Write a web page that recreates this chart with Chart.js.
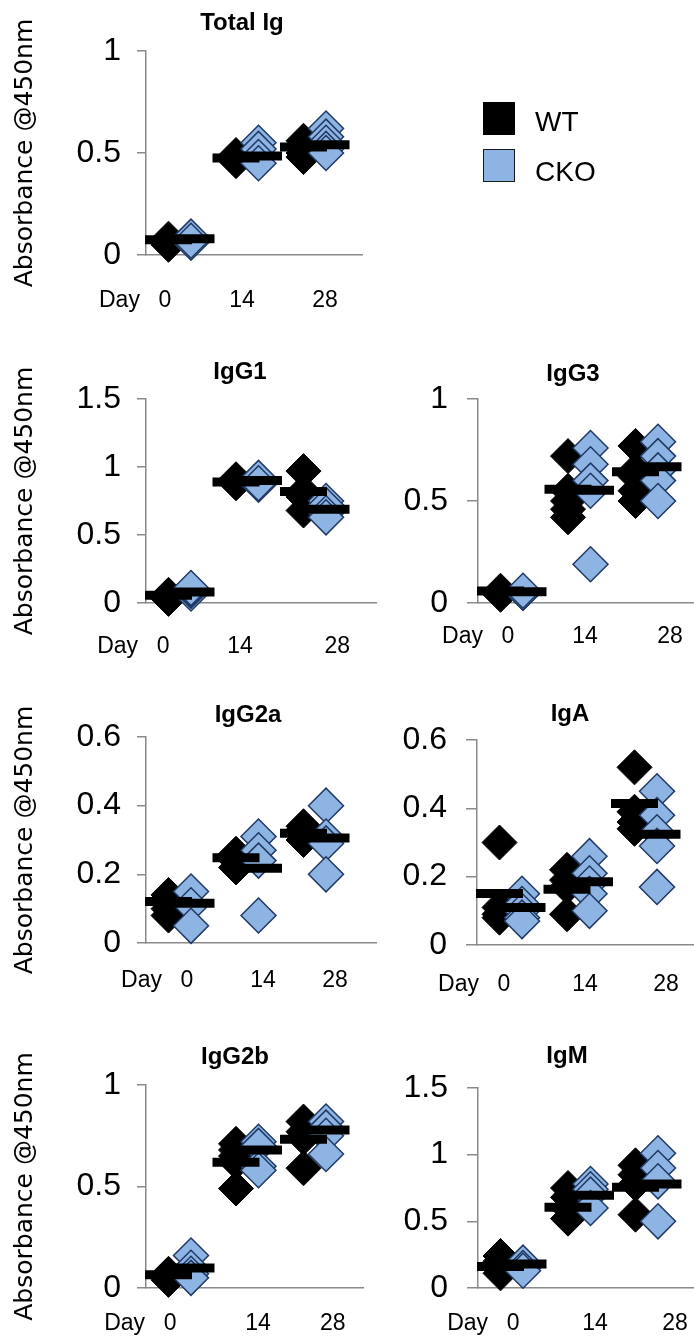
<!DOCTYPE html>
<html>
<head>
<meta charset="utf-8">
<script src="https://cdn.jsdelivr.net/npm/chart.js@4.4.1/dist/chart.umd.min.js"></script>
<style>
  html, body { margin: 0; padding: 0; background: #fff; }
  body { width: 694px; height: 1339px; position: relative; overflow: hidden; }
  canvas { position: absolute; }
  .sw { position: absolute; left: 483px; width: 30px; height: 31px; box-sizing: content-box; }
  .key { position: absolute; left: 535px; font: 28px "Liberation Sans", Arial, sans-serif; line-height: 28px; color: #000; }
</style>
</head>
<body>
<script>
const days = ['0', '14', '28'];
const groups = ['WT', 'CKO'];
const panelNames = ['Total Ig', 'IgG1', 'IgG3', 'IgG2a', 'IgA', 'IgG2b', 'IgM'];
const yMax = [1, 1.5, 1, 0.6, 0.6, 1, 1.5];
const yStep = [0.5, 0.5, 0.5, 0.2, 0.2, 0.5, 0.5];

// one inner array per day (0, 14, 28): individual mice
const totalIgWT = [[0.05, 0.06, 0.07, 0.08, 0.07], [0.46, 0.47, 0.48, 0.49, 0.47], [0.56, 0.53, 0.50, 0.48, 0.52]];
const totalIgCKO = [[0.06, 0.08, 0.09, 0.07], [0.55, 0.52, 0.48, 0.45], [0.62, 0.58, 0.55, 0.52, 0.50]];
const igG1WT = [[0.03, 0.05, 0.06, 0.04], [0.88, 0.90, 0.89, 0.91], [0.97, 0.82, 0.78, 0.68]];
const igG1CKO = [[0.07, 0.09, 0.10, 0.11], [0.87, 0.90, 0.92, 0.88], [0.75, 0.72, 0.66, 0.63]];
const igG3WT = [[0.04, 0.05, 0.06, 0.05], [0.72, 0.55, 0.50, 0.46, 0.42], [0.77, 0.65, 0.62, 0.55, 0.50]];
const igG3CKO = [[0.05, 0.05, 0.06], [0.76, 0.68, 0.60, 0.55, 0.19], [0.79, 0.72, 0.65, 0.60, 0.50]];
const igG2aWT = [[0.14, 0.12, 0.10, 0.08], [0.26, 0.24, 0.22, 0.25], [0.34, 0.32, 0.30, 0.33]];
const igG2aCKO = [[0.15, 0.11, 0.05], [0.31, 0.27, 0.24, 0.08], [0.40, 0.31, 0.29, 0.20]];
const igAWT = [[0.30, 0.11, 0.08, 0.09], [0.22, 0.19, 0.17, 0.09], [0.52, 0.39, 0.36, 0.34]];
const igACKO = [[0.15, 0.12, 0.10, 0.08, 0.07], [0.26, 0.21, 0.18, 0.15, 0.10], [0.45, 0.38, 0.33, 0.29, 0.17]];
const igG2bWT = [[0.07, 0.05, 0.06, 0.04], [0.71, 0.68, 0.65, 0.62, 0.49], [0.82, 0.77, 0.74, 0.59]];
const igG2bCKO = [[0.16, 0.10, 0.07, 0.05], [0.72, 0.70, 0.60, 0.58], [0.82, 0.79, 0.75, 0.66]];
const igMWT = [[0.24, 0.20, 0.14, 0.11], [0.75, 0.68, 0.60, 0.52], [0.92, 0.85, 0.78, 0.55]];
const igMCKO = [[0.19, 0.15, 0.13], [0.78, 0.74, 0.70, 0.60], [1.01, 0.90, 0.80, 0.50]];

// group means (the black bars), per day
const totalIgWTMean = [0.075, 0.475, 0.53];
const totalIgCKOMean = [0.08, 0.485, 0.54];
const igG1WTMean = [0.057, 0.89, 0.82];
const igG1CKOMean = [0.08, 0.90, 0.69];
const igG3WTMean = [0.059, 0.557, 0.643];
const igG3CKOMean = [0.055, 0.553, 0.668];
const igG2aWTMean = [0.121, 0.248, 0.32];
const igG2aCKOMean = [0.116, 0.218, 0.306];
const igAWTMean = [0.151, 0.163, 0.414];
const igACKOMean = [0.11, 0.185, 0.324];
const igG2bWTMean = [0.065, 0.62, 0.733];
const igG2bCKOMean = [0.098, 0.68, 0.778];
const igMWTMean = [0.162, 0.605, 0.755];
const igMCKOMean = [0.18, 0.695, 0.78];

const wtValues = [totalIgWT, igG1WT, igG3WT, igG2aWT, igAWT, igG2bWT, igMWT];
const ckoValues = [totalIgCKO, igG1CKO, igG3CKO, igG2aCKO, igACKO, igG2bCKO, igMCKO];
const wtMeans = [totalIgWTMean, igG1WTMean, igG3WTMean, igG2aWTMean, igAWTMean, igG2bWTMean, igMWTMean];
const ckoMeans = [totalIgCKOMean, igG1CKOMean, igG3CKOMean, igG2aCKOMean, igACKOMean, igG2bCKOMean, igMCKOMean];

/* colours */
const wtColor = '#000000';
const ckoFill = '#8db4e2';
const ckoEdge = '#1f3864';
const axisColor = '#8a8a8a';

/* panel placement in the figure (px) */
const xUnit = 22.5;
const layout = [
  { left: 0,   xL: 146, xR: 362, yT: 51,   yB: 255,  titleX: 242, titleY: 23.5, dayY: 301,  dayX: [0.84, 4.27, 7.96] },
  { left: 0,   xL: 146, xR: 376, yT: 399,  yB: 603,  titleX: 240, titleY: 372,  dayY: 647,  dayX: [0.76, 4.18, 8.5] },
  { left: 380, xL: 478, xR: 700, yT: 399,  yB: 603,  titleX: 573, titleY: 374.5, dayY: 637, dayX: [1.33, 4.76, 8.53] },
  { left: 0,   xL: 146, xR: 376, yT: 737,  yB: 943,  titleX: 248, titleY: 715.5, dayY: 980.5, dayX: [1.82, 5.2, 8.4] },
  { left: 380, xL: 477, xR: 700, yT: 740,  yB: 945,  titleX: 570, titleY: 714.5, dayY: 985, dayX: [1.2, 4.8, 8.4] },
  { left: 0,   xL: 146, xR: 363, yT: 1085, yB: 1288, titleX: 235, titleY: 1057.5, dayY: 1323.5, dayX: [1.07, 4.98, 8.3] },
  { left: 380, xL: 478, xR: 700, yT: 1088, yB: 1288, titleX: 567, titleY: 1056, dayY: 1323.5, dayX: [1.56, 5.2, 8.76] }
];

Chart.defaults.font.family = '"Liberation Sans", Arial, sans-serif';
Chart.defaults.color = '#000';

const dayFont = 23;

// "Day" word in front of the first x label
const dayWord = {
  id: 'dayWord',
  afterDraw(chart) {
    const xs = chart.scales.x;
    const px = xs.getPixelForValue(xs.ticks[0].value);
    const y = xs.top + xs.options.ticks.padding + dayFont * 0.6;
    const ctx = chart.ctx;
    ctx.save();
    ctx.font = dayFont + 'px "Liberation Sans", Arial, sans-serif';
    ctx.fillStyle = '#000';
    ctx.textAlign = 'right';
    ctx.textBaseline = 'middle';
    ctx.fillText('Day', px - 25, y);
    ctx.restore();
  }
};

function pts(values, off) {
  const out = [];
  values.forEach((dayVals, d) => dayVals.forEach(v => out.push({ x: 3 * d + off, y: v })));
  return out;
}
function meanPts(means, off) {
  return means.map((m, d) => ({ x: 3 * d + off, y: m }));
}

layout.forEach((p, i) => {
  const cv = document.createElement('canvas');
  const cT = Math.round(p.titleY - 14.4 - 4);
  const w = 2 * (p.titleX - p.left);
  const h = p.yB - cT + 70;
  cv.width = w;
  cv.height = h;
  cv.style.left = p.left + 'px';
  cv.style.top = cT + 'px';
  document.body.appendChild(cv);

  const leftCol = p.left === 0;
  const tickLen = leftCol ? 9 : 11;
  const labelGap = leftCol ? 16 : 19;

  new Chart(cv, {
    type: 'scatter',
    data: {
      datasets: [
        { label: groups[0] + ' mean', data: meanPts(wtMeans[i], 1), pointStyle: 'line', pointRadius: 23.5,
          borderColor: wtColor, borderWidth: 9, order: 0, clip: false },
        { label: groups[1] + ' mean', data: meanPts(ckoMeans[i], 2), pointStyle: 'line', pointRadius: 23.5,
          borderColor: wtColor, borderWidth: 9, order: 0, clip: false },
        { label: groups[1], data: pts(ckoValues[i], 2), pointStyle: 'rectRot', pointRadius: 17.5,
          backgroundColor: ckoFill, borderColor: ckoEdge, borderWidth: 1.5, order: 1, clip: false },
        { label: groups[0], data: pts(wtValues[i], 1), pointStyle: 'rectRot', pointRadius: 17.5,
          backgroundColor: wtColor, borderColor: wtColor, borderWidth: 1, order: 2, clip: false }
      ]
    },
    options: {
      responsive: false,
      animation: false,
      events: [],
      layout: { padding: 0 },
      plugins: {
        legend: { display: false },
        tooltip: { enabled: false },
        title: {
          display: true,
          text: panelNames[i],
          color: '#000',
          font: { size: 24, weight: 'bold' },
          padding: { top: p.titleY - 14.4 - cT, bottom: p.yT - p.titleY - 14.4 }
        }
      },
      scales: {
        x: {
          type: 'linear',
          min: 0,
          max: (p.xR - p.xL) / xUnit,
          grid: { display: false, drawTicks: false },
          border: { color: axisColor, width: 1.5 },
          afterBuildTicks: s => { s.ticks = p.dayX.map(v => ({ value: v })); },
          ticks: {
            callback: (v, k) => days[k],
            autoSkip: false,
            maxRotation: 0,
            color: '#000',
            font: { size: dayFont },
            padding: p.dayY - p.yB - dayFont * 0.6
          },
          afterFit: s => { s.height = 70; }
        },
        y: {
          min: 0,
          max: yMax[i],
          ticks: {
            stepSize: yStep[i],
            color: '#000',
            font: { size: 32 },
            padding: labelGap,
            callback: v => String(Math.round(v * 100) / 100)
          },
          grid: { drawOnChartArea: false, drawTicks: true, tickLength: tickLen, color: axisColor, lineWidth: 1.5 },
          border: { color: axisColor, width: 1.5 },
          title: {
            display: leftCol,
            text: 'Absorbance @450nm',
            color: '#000',
            font: { family: '"DejaVu Sans", sans-serif', size: 25 },
            padding: { top: 10, bottom: 0 }
          },
          afterFit: s => { s.width = p.xL - p.left; }
        },
        pad: {
          type: 'linear',
          position: 'right',
          display: true,
          grid: { display: false, drawTicks: false },
          border: { display: false },
          ticks: { display: false },
          afterFit: s => { s.width = p.left + w - p.xR; }
        }
      }
    },
    plugins: [dayWord]
  });
});

// legend, top right
const legendRows = [
  { name: groups[0], fill: wtColor, edge: wtColor, top: 102, textTop: 108 },
  { name: groups[1], fill: ckoFill, edge: '#1a1a1a', top: 149, textTop: 158 }
];
legendRows.forEach(r => {
  const sw = document.createElement('div');
  sw.className = 'sw';
  sw.style.top = r.top + 'px';
  sw.style.background = r.fill;
  sw.style.border = '1.5px solid ' + r.edge;
  document.body.appendChild(sw);
  const t = document.createElement('div');
  t.className = 'key';
  t.style.top = r.textTop + 'px';
  t.textContent = r.name;
  document.body.appendChild(t);
});
</script>
</body>
</html>
